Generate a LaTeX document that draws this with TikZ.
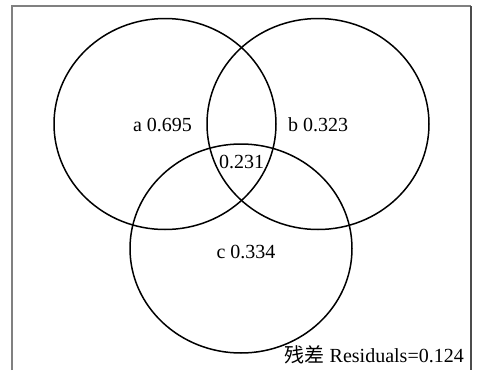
\documentclass[tikz,border=0pt]{standalone}
\usepackage{fontspec}
\setmainfont{Liberation Serif}
\newfontfamily\cjk{Noto Sans CJK SC}
\begin{document}
\begin{tikzpicture}[x=1pt,y=-1pt,
    set/.style={line width=1.5pt,black},
    val/.style={anchor=base,inner sep=0pt,font=\fontsize{20}{20}\selectfont}]
        \useasboundingbox (0,0) rectangle (477,370);
        % frame
        \draw[gray,line width=1.2pt] (12,370) -- (12,6) -- (471,6);
        \draw[black!70,line width=1.6pt] (471,6) -- (471,370);
        % sets
        \draw[set] (165,124) ellipse[x radius=111,y radius=105.5];
        \draw[set] (318,124) ellipse[x radius=111,y radius=105.5];
        \draw[set] (241,248.5) ellipse[x radius=111,y radius=104.5];
        % values
        \node[val] (a) at (162.5,131.5) {a 0.695};
        \node[val] (b) at (318,131.5) {b 0.323};
        \node[val] (abc) at (241.5,168) {0.231};
        \node[val] (c) at (246,258) {c 0.334};
        \node[val,anchor=base east] (res) at (464,362.5) {{\cjk 残差} Residuals=0.124};
    \end{tikzpicture}
\end{document}
